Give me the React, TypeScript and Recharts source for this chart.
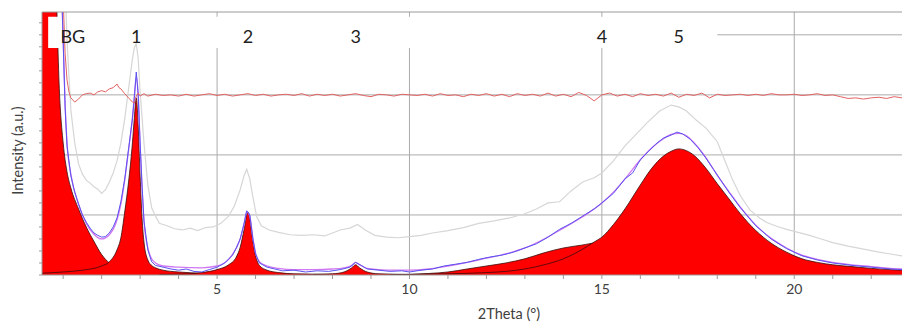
import React from "react";
import {
  ComposedChart,
  Area,
  Line,
  XAxis,
  YAxis,
  CartesianGrid,
  ReferenceArea,
  ReferenceDot,
  ReferenceLine,
} from "recharts";

// [2Theta, intensity] pairs (a.u., gridline = 1)
const bgFit: [number, number][] = [
  [0.45, 14], [0.6, 9], [0.7, 6.8], [0.8, 5.2], [0.9, 3.1], [1.0, 2.2], [1.1, 1.72],
  [1.2, 1.45], [1.4, 1.1], [1.6, 0.8], [1.8, 0.56], [2.0, 0.34], [2.2, 0.2], [2.4, 0.12],
  [2.6, 0.08], [2.8, 0.05], [3.0, 0.035], [3.4, 0.02], [4.0, 0.01], [5.0, 0.005], [6.0, 0],
];

const peak1Fit: [number, number][] = [
  [0.45, 0.03], [1.0, 0.05], [1.5, 0.08], [2.0, 0.15], [2.2, 0.22], [2.4, 0.42], [2.5, 0.62],
  [2.6, 1.05], [2.7, 1.55], [2.8, 2.2], [2.85, 2.62], [2.9, 2.95], [2.95, 2.5], [3.0, 1.65],
  [3.05, 0.95], [3.1, 0.55], [3.2, 0.25], [3.3, 0.16], [3.4, 0.12], [3.6, 0.08], [4.0, 0.05],
  [4.6, 0.03], [5.0, 0.02], [6.0, 0.01], [7.0, 0],
];

const peak2Fit: [number, number][] = [
  [3.5, 0.01], [4.3, 0.02], [4.6, 0.04], [5.0, 0.09], [5.3, 0.17], [5.5, 0.3], [5.6, 0.46],
  [5.7, 0.75], [5.8, 1.05], [5.85, 0.95], [5.9, 0.7], [6.0, 0.32], [6.1, 0.16], [6.3, 0.08],
  [6.6, 0.04], [7.0, 0.02], [8.0, 0.01], [9.0, 0],
];

const peak3Fit: [number, number][] = [
  [7.5, 0.01], [8.0, 0.02], [8.3, 0.05], [8.5, 0.12], [8.6, 0.17], [8.7, 0.12], [8.9, 0.05],
  [9.2, 0.02], [10.0, 0.01],
];

const peak4Fit: [number, number][] = [
  [9.5, 0.005], [10.0, 0.01], [10.5, 0.025], [11.0, 0.05], [11.5, 0.1], [12.0, 0.15],
  [12.5, 0.2], [13.0, 0.27], [13.5, 0.37], [14.0, 0.45], [14.5, 0.5], [14.8, 0.53],
  [15.0, 0.53], [15.3, 0.5], [15.6, 0.45], [16.0, 0.36], [16.6, 0.22], [17.0, 0.15],
  [17.7, 0.06], [18.3, 0.02], [19.0, 0.005],
];

const peak5Fit: [number, number][] = [
  [10.0, 0.01], [11.0, 0.02], [12.0, 0.04], [12.5, 0.06], [13.0, 0.1], [13.5, 0.17],
  [14.0, 0.27], [14.5, 0.43], [14.8, 0.55], [15.0, 0.63], [15.3, 0.84], [15.6, 1.1],
  [16.0, 1.5], [16.3, 1.78], [16.6, 1.98], [16.8, 2.06], [17.0, 2.1], [17.2, 2.07],
  [17.4, 1.99], [17.7, 1.78], [18.0, 1.52], [18.3, 1.27], [18.6, 1.02], [19.0, 0.74],
  [19.4, 0.53], [19.8, 0.38], [20.2, 0.27], [20.6, 0.21], [21.0, 0.17], [21.5, 0.14],
  [22.0, 0.11], [22.5, 0.09], [22.8, 0.08],
];

const measured: [number, number][] = [
  [0.45, 30], [0.7, 12], [0.9, 6.0], [1.0, 3.9], [1.05, 2.8], [1.1, 2.15], [1.2, 1.65],
  [1.3, 1.38], [1.4, 1.18], [1.5, 1.0], [1.6, 0.88], [1.7, 0.78], [1.8, 0.7], [1.9, 0.66],
  [2.0, 0.63], [2.1, 0.64], [2.2, 0.7], [2.3, 0.8], [2.4, 0.95], [2.5, 1.22], [2.6, 1.6],
  [2.7, 2.1], [2.8, 2.6], [2.85, 2.95], [2.9, 3.38], [2.95, 3.0], [3.0, 2.2], [3.05, 1.5],
  [3.1, 0.9], [3.2, 0.42], [3.3, 0.22], [3.4, 0.16], [3.6, 0.13], [3.8, 0.1], [4.0, 0.08],
  [4.2, 0.1], [4.4, 0.06], [4.6, 0.05], [4.8, 0.09], [5.0, 0.13], [5.2, 0.2], [5.4, 0.33],
  [5.5, 0.45], [5.6, 0.6], [5.7, 0.85], [5.77, 1.07], [5.85, 1.0], [5.93, 0.6], [6.0, 0.35],
  [6.1, 0.2], [6.3, 0.13], [6.5, 0.1], [6.7, 0.07], [7.0, 0.08], [7.3, 0.05], [7.6, 0.07],
  [7.9, 0.06], [8.2, 0.09], [8.45, 0.13], [8.6, 0.21], [8.75, 0.16], [8.9, 0.1], [9.2, 0.08],
  [9.5, 0.06], [9.8, 0.07], [10.0, 0.05], [10.3, 0.08], [10.6, 0.1], [10.9, 0.15],
  [11.2, 0.18], [11.5, 0.21], [11.8, 0.26], [12.1, 0.3], [12.4, 0.33], [12.7, 0.38],
  [13.0, 0.45], [13.3, 0.52], [13.6, 0.63], [13.9, 0.76], [14.2, 0.86], [14.5, 0.98],
  [14.8, 1.1], [15.0, 1.2], [15.3, 1.36], [15.6, 1.6], [15.8, 1.7], [16.0, 1.92],
  [16.2, 2.05], [16.4, 2.18], [16.6, 2.28], [16.8, 2.33], [16.95, 2.38], [17.1, 2.35],
  [17.3, 2.26], [17.5, 2.12], [17.7, 1.95], [17.9, 1.76], [18.1, 1.57], [18.3, 1.38],
  [18.6, 1.12], [19.0, 0.82], [19.4, 0.6], [19.8, 0.44], [20.2, 0.32], [20.6, 0.25],
  [21.0, 0.2], [21.5, 0.16], [22.0, 0.13], [22.5, 0.1], [22.8, 0.09],
];

const fitTotal: [number, number][] = [
  [0.45, 30], [0.7, 12], [0.9, 6.0], [1.0, 3.95], [1.05, 2.85], [1.1, 2.2], [1.2, 1.68],
  [1.4, 1.18], [1.6, 0.86], [1.8, 0.68], [2.0, 0.6], [2.2, 0.67], [2.4, 0.92], [2.5, 1.18],
  [2.6, 1.58], [2.7, 2.08], [2.8, 2.62], [2.85, 2.98], [2.9, 3.3], [2.95, 3.0], [3.0, 2.15],
  [3.05, 1.45], [3.1, 0.9], [3.2, 0.45], [3.3, 0.27], [3.4, 0.2], [3.6, 0.15], [4.0, 0.13],
  [4.6, 0.12], [5.0, 0.15], [5.3, 0.26], [5.5, 0.45], [5.6, 0.6], [5.7, 0.85], [5.77, 1.05],
  [5.85, 0.98], [5.93, 0.62], [6.0, 0.37], [6.1, 0.22], [6.3, 0.15], [6.6, 0.11], [7.0, 0.09],
  [7.5, 0.09], [8.0, 0.1], [8.3, 0.12], [8.5, 0.16], [8.6, 0.21], [8.7, 0.17], [8.9, 0.11],
  [9.2, 0.09], [9.6, 0.08], [10.0, 0.08], [10.5, 0.1], [11.0, 0.15], [11.5, 0.21],
  [12.0, 0.28], [12.5, 0.35], [13.0, 0.45], [13.5, 0.6], [14.0, 0.78], [14.5, 0.97],
  [15.0, 1.2], [15.3, 1.38], [15.6, 1.6], [16.0, 1.92], [16.3, 2.12], [16.6, 2.27],
  [16.8, 2.34], [17.0, 2.36], [17.2, 2.32], [17.4, 2.2], [17.7, 1.96], [18.0, 1.66],
  [18.3, 1.39], [18.6, 1.13], [19.0, 0.83], [19.4, 0.61], [19.8, 0.45], [20.2, 0.33],
  [20.6, 0.26], [21.0, 0.21], [21.5, 0.17], [22.0, 0.14], [22.5, 0.11], [22.8, 0.1],
];

const rawOffset: [number, number][] = [
  [0.45, 40], [0.8, 14], [1.0, 6.0], [1.1, 3.9], [1.2, 2.75], [1.3, 2.2], [1.4, 1.85],
  [1.5, 1.68], [1.6, 1.58], [1.7, 1.53], [1.8, 1.47], [1.9, 1.43], [2.0, 1.36], [2.1, 1.42],
  [2.2, 1.55], [2.3, 1.7], [2.4, 1.9], [2.5, 2.2], [2.6, 2.6], [2.7, 3.1], [2.8, 3.6],
  [2.85, 3.78], [2.9, 3.86], [2.95, 3.6], [3.0, 3.05], [3.1, 2.2], [3.2, 1.5], [3.3, 1.12],
  [3.4, 0.98], [3.5, 0.86], [3.7, 0.82], [3.9, 0.77], [4.1, 0.75], [4.3, 0.78], [4.5, 0.74],
  [4.7, 0.79], [4.9, 0.8], [5.1, 0.86], [5.3, 0.98], [5.45, 1.15], [5.6, 1.42], [5.7, 1.65],
  [5.77, 1.76], [5.85, 1.6], [5.93, 1.3], [6.03, 0.97], [6.15, 0.82], [6.35, 0.75],
  [6.6, 0.71], [6.9, 0.67], [7.2, 0.66], [7.5, 0.67], [7.8, 0.65], [8.0, 0.7], [8.2, 0.75],
  [8.45, 0.78], [8.65, 0.84], [8.85, 0.75], [9.1, 0.66], [9.4, 0.63], [9.7, 0.62],
  [10.0, 0.64], [10.3, 0.66], [10.6, 0.7], [11.0, 0.74], [11.4, 0.79], [11.8, 0.86],
  [12.2, 0.9], [12.6, 0.95], [13.0, 1.02], [13.3, 1.1], [13.6, 1.2], [13.9, 1.22],
  [14.2, 1.4], [14.5, 1.55], [14.8, 1.62], [15.0, 1.7], [15.3, 1.9], [15.6, 2.15],
  [15.9, 2.35], [16.2, 2.55], [16.5, 2.73], [16.8, 2.83], [17.0, 2.8], [17.2, 2.73],
  [17.45, 2.58], [17.7, 2.45], [18.0, 2.22], [18.2, 1.9], [18.4, 1.58], [18.6, 1.32],
  [18.85, 1.08], [19.1, 0.95], [19.3, 0.87], [19.6, 0.8], [19.8, 0.76], [20.1, 0.71],
  [20.4, 0.66], [20.7, 0.6], [21.0, 0.54], [21.4, 0.48], [21.8, 0.43], [22.2, 0.38],
  [22.5, 0.35], [22.8, 0.32],
];

// difference curve, plotted with an offset of 3
const residual: [number, number][] = [
  [0.45, 40], [0.8, 12], [0.95, 6], [1.0, 4.6], [1.05, 3.7], [1.1, 3.25], [1.15, 3.05],
  [1.2, 2.95], [1.3, 2.88], [1.4, 2.93], [1.5, 3.0], [1.6, 3.02], [1.7, 3.03], [1.8, 3.0],
  [1.9, 3.05], [2.0, 3.07], [2.1, 3.05], [2.2, 3.1], [2.3, 3.12], [2.4, 3.18], [2.45, 3.12],
  [2.5, 3.1], [2.6, 3.02], [2.7, 2.95], [2.8, 2.88], [2.85, 2.86], [2.9, 2.98], [2.95, 3.03],
  [3.0, 2.98], [3.1, 3.02], [3.2, 2.98], [3.4, 3.01], [3.6, 2.99], [3.8, 3.0], [4.0, 2.98],
  [4.2, 3.01], [4.4, 2.98], [4.6, 3.0], [4.8, 3.02], [5.0, 2.99], [5.2, 3.01], [5.4, 2.98],
  [5.6, 3.0], [5.8, 3.02], [6.0, 2.99], [6.2, 3.01], [6.4, 2.98], [6.6, 3.0], [6.8, 3.01],
  [7.0, 2.99], [7.2, 3.02], [7.4, 2.98], [7.6, 3.01], [7.8, 2.99], [8.0, 3.01], [8.2, 2.98],
  [8.4, 3.0], [8.6, 3.02], [8.8, 2.99], [9.0, 2.97], [9.2, 3.01], [9.4, 3.0], [9.6, 2.98],
  [9.8, 3.01], [10.0, 3.0], [10.2, 2.99], [10.4, 3.01], [10.6, 2.98], [10.8, 3.02],
  [11.0, 2.99], [11.2, 3.0], [11.4, 2.97], [11.6, 3.01], [11.8, 2.99], [12.0, 3.02],
  [12.2, 2.98], [12.4, 3.01], [12.6, 2.97], [12.8, 3.02], [13.0, 2.99], [13.2, 3.01],
  [13.4, 2.98], [13.6, 3.03], [13.8, 2.98], [14.0, 3.01], [14.2, 2.97], [14.4, 3.04],
  [14.6, 2.99], [14.8, 2.9], [15.0, 3.0], [15.2, 3.03], [15.4, 2.98], [15.6, 3.01],
  [15.8, 2.97], [16.0, 3.02], [16.2, 2.99], [16.4, 3.01], [16.6, 2.98], [16.8, 3.03],
  [17.0, 2.96], [17.2, 3.01], [17.4, 2.99], [17.6, 3.03], [17.8, 2.95], [18.0, 3.01],
  [18.2, 2.99], [18.4, 3.0], [18.6, 3.01], [18.8, 2.99], [19.0, 3.01], [19.2, 2.99],
  [19.4, 3.02], [19.6, 3.0], [19.8, 3.0], [20.0, 3.01], [20.2, 2.99], [20.4, 3.0],
  [20.6, 3.02], [20.8, 2.99], [21.0, 3.0], [21.2, 2.97], [21.4, 2.94], [21.6, 2.95],
  [21.8, 2.93], [22.0, 2.95], [22.2, 2.96], [22.4, 2.94], [22.6, 2.97], [22.8, 2.95],
];

const peakNames = ["BG", "1", "2", "3", "4", "5"];
const peakPositions = [1.25, 2.9, 5.8, 8.6, 15.0, 17.0];

const xMinorTicks = [1, 2, 3, 4, 5, 6, 7, 8, 9, 10, 11, 12, 13, 14, 15, 16, 17, 18, 19, 20, 21, 22];
const xLabelTicks = [5, 10, 15, 20];
const yMinorTicks = [0, 0.2, 0.4, 0.6, 0.8, 1, 1.2, 1.4, 1.6, 1.8, 2, 2.2, 2.4, 2.6, 2.8, 3, 3.2, 3.4, 3.6, 3.8, 4, 4.2];
const yGridValues = [1, 2, 3, 4];

const X_DOMAIN: [number, number] = [0.45, 22.8];
const Y_TOP = 4.38;

const toRows = (pairs: [number, number][]) => pairs.map(([t, v]) => ({ t, v }));

const fitPeaks = [bgFit, peak1Fit, peak2Fit, peak3Fit, peak4Fit, peak5Fit];

export default function App() {
  return (
    <div
      style={{
        position: "absolute",
        left: 0,
        top: 0,
        width: 902,
        height: 324,
        background: "#fff",
        fontFamily: "Lato, 'Open Sans', sans-serif",
      }}
    >
      <ComposedChart width={902} height={324} margin={{ top: 12, right: 0, bottom: 0, left: 0 }}>
        <CartesianGrid
          stroke="#ababab"
          horizontalValues={yGridValues}
          verticalValues={xLabelTicks}
        />
        <XAxis
          dataKey="t"
          type="number"
          domain={X_DOMAIN}
          allowDataOverflow
          ticks={xMinorTicks}
          interval={0}
          tickFormatter={(v: number) => (xLabelTicks.includes(v) ? String(v) : "")}
          height={49}
          tickSize={4}
          tickMargin={5}
          stroke="#9a9a9a"
          tick={{ fill: "#404040", fontSize: 14 }}
          label={(props: any) => {
            const vb = props.viewBox || {};
            const cx = vb.x + vb.width / 2 + 37;
            const cy = vb.y + vb.height - 11;
            return (
              <text x={cx} y={cy} textAnchor="middle" dominantBaseline="central" fill="#404040" fontSize={14.5}>
                2Theta (°)
              </text>
            );
          }}
        />
        <YAxis
          type="number"
          domain={[0, Y_TOP]}
          allowDataOverflow
          ticks={yMinorTicks}
          interval={0}
          tickFormatter={() => ""}
          width={42}
          tickSize={3}
          stroke="#9a9a9a"
          label={(props: any) => {
            const vb = props.viewBox || {};
            const cx = vb.x + 17;
            const cy = vb.y + vb.height / 2 + 7;
            return (
              <text
                x={cx}
                y={cy}
                transform={`rotate(-90 ${cx} ${cy})`}
                textAnchor="middle"
                dominantBaseline="central"
                fill="#404040"
                fontSize={14.5}
              >
                Intensity (a.u.)
              </text>
            );
          }}
        />

        {fitPeaks.map((pk, i) => (
          <Area
            key={`pk-${i}`}
            data={toRows(pk)}
            dataKey="v"
            type="monotone"
            fill="#ff0000"
            fillOpacity={1}
            stroke="#3a0a0a"
            strokeWidth={0.8}
            dot={false}
            activeDot={false}
            isAnimationActive={false}
          />
        ))}

        <Line data={toRows(rawOffset)} dataKey="v" type="linear" stroke="#d6d6d6" strokeWidth={1.2} dot={false} activeDot={false} isAnimationActive={false} />
        <Line data={toRows(fitTotal)} dataKey="v" type="monotone" stroke="#cf78f2" strokeWidth={1.3} dot={false} activeDot={false} isAnimationActive={false} />
        <Line data={toRows(measured)} dataKey="v" type="linear" stroke="#5a52f0" strokeWidth={1} dot={false} activeDot={false} isAnimationActive={false} />
        <Line data={toRows(residual)} dataKey="v" type="linear" stroke="#e26262" strokeWidth={1} dot={false} activeDot={false} isAnimationActive={false} />

        <ReferenceArea x1={0.61} x2={18.0} y1={3.78} y2={4.3} fill="#ffffff" fillOpacity={1} stroke="none" />
        {peakNames.map((name, i) => (
          <ReferenceDot
            key={name}
            x={peakPositions[i]}
            y={3.97}
            r={0}
            fill="none"
            stroke="none"
            label={{ value: name, position: "center", fill: "#1e1e1e", fontSize: 18 }}
          />
        ))}
        <ReferenceLine y={Y_TOP} stroke="#9a9a9a" />
      </ComposedChart>
    </div>
  );
}
